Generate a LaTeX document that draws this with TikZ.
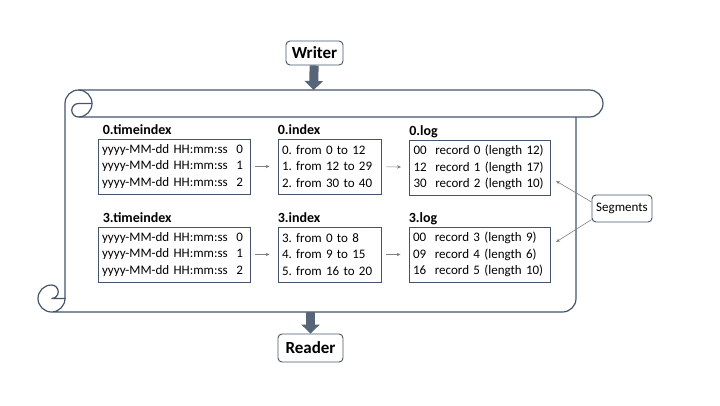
\documentclass[tikz,border=0pt]{standalone}
\usepackage{fontspec}
\setmainfont{Carlito}
\usetikzlibrary{arrows.meta}
\definecolor{slate}{RGB}{68,84,106}
\definecolor{arrgray}{RGB}{128,128,128}
\tikzset{
  rec/.style={draw=slate, line width=0.9pt, minimum height=55pt, inner xsep=4pt, inner ysep=0pt,
    text width=#1, align=left, font=\fontsize{13}{16.5}\selectfont\frenchspacing},
  ttl/.style={anchor=base west, inner sep=0pt, font=\fontsize{14}{16}\selectfont\bfseries},
  actor/.style={draw=slate, line width=0.9pt, rounded corners=4pt, inner sep=0pt},
  arr/.style={draw=arrgray, line width=0.6pt, -{Stealth[length=4pt,width=3.5pt]}, shorten <=5pt, shorten >=8pt},
  thin arr/.style={draw=arrgray, line width=0.6pt, -{Stealth[length=4pt,width=3.5pt]}},
  blk/.style={draw=slate!90, line width=9pt, -{Triangle[length=9pt,width=18pt]}},
  scroll/.style={draw=slate, line width=1.2pt},
}
\begin{document}
\begin{tikzpicture}[x=1pt,y=-1pt]
  \useasboundingbox (0,0) rectangle (720,405);
  % scroll
  \draw[scroll] (65,298.5) -- (65,103.5) arc (180:270:13.5) -- (589.5,90) arc (-90:90:13.5) -- (78.5,117);
  \draw[scroll] (78.5,90) arc (-90:90:13.5);
  \draw[scroll] (92,103.5) -- (78.5,103.5) arc (-90:-270:6.75);
  \draw[scroll] (576,117) -- (576,298.5) arc (0:90:13.5) -- (51.5,312) arc (90:270:13.5)
    arc (-90:90:6.75) -- (65,298.5) arc (0:90:13.5);

  % segment 0
  \node[rec=144pt] (tidx0) at (174,166.5) {yyyy-MM-dd HH:mm:ss\ \ 0\\yyyy-MM-dd HH:mm:ss\ \ 1\\yyyy-MM-dd HH:mm:ss\ \ 2};
  \node[rec=95pt] (idx0) at (329.5,166.5) {0. from 0 to 12\\1. from 12 to 29\\2. from 30 to 40};
  \node[rec=133pt] (log0) at (480,167.5) {00\ \ record 0 (length 12)\\12\ \ record 1 (length 17)\\30\ \ record 2 (length 10)};
  \node[ttl] (tidx0t) at ([xshift=5pt,yshift=4.5pt]tidx0.north west) {0.timeindex};
  \node[ttl] (idx0t) at ([yshift=4.5pt]idx0.north west) {0.index};
  \node[ttl] (log0t) at ([yshift=4.5pt]log0.north west) {0.log};

  % segment 3
  \node[rec=144pt] (tidx3) at (174,254.5) {yyyy-MM-dd HH:mm:ss\ \ 0\\yyyy-MM-dd HH:mm:ss\ \ 1\\yyyy-MM-dd HH:mm:ss\ \ 2};
  \node[rec=95pt] (idx3) at (329.5,254.5) {3. from 0 to 8\\4. from 9 to 15\\5. from 16 to 20};
  \node[rec=133pt] (log3) at (479.5,254.5) {00\ \ record 3 (length 9)\\09\ \ record 4 (length 6)\\16\ \ record 5 (length 10)};
  \node[ttl] (tidx3t) at ([xshift=5pt,yshift=4.5pt]tidx3.north west) {3.timeindex};
  \node[ttl] (idx3t) at ([yshift=4.5pt]idx3.north west) {3.index};
  \node[ttl] (log3t) at ([yshift=4.5pt]log3.north west) {3.log};

  \draw[arr] (tidx0) -- (idx0);
  \draw[arr] (idx0) -- (log0);
  \draw[arr] (tidx3) -- (idx3);
  \draw[arr] (idx3) -- (log3);

  % writer / reader
  \node[actor, minimum width=57pt, minimum height=24pt, font=\fontsize{17}{20}\selectfont\bfseries] (writer) at (314.5,53) {Writer};
  \node[actor, minimum width=65pt, minimum height=28pt, font=\fontsize{17}{20}\selectfont\bfseries] (reader) at (310.5,348) {Reader};
  \coordinate (wtip) at (313.5,90);
  \coordinate (rtail) at (310.5,312);
  \draw[blk] (writer) -- (wtip);
  \draw[blk] (rtail) -- (reader);

  % segments label
  \node[actor, minimum width=60pt, minimum height=27pt, font=\fontsize{13}{15}\selectfont] (seg) at (622,208.5) {Segments};
  \coordinate (tip0) at (556,181);
  \coordinate (tip3) at (556,242);
  \draw[thin arr] (seg.168) -- (tip0);
  \draw[thin arr] (seg.200) -- (tip3);
\end{tikzpicture}
\end{document}
